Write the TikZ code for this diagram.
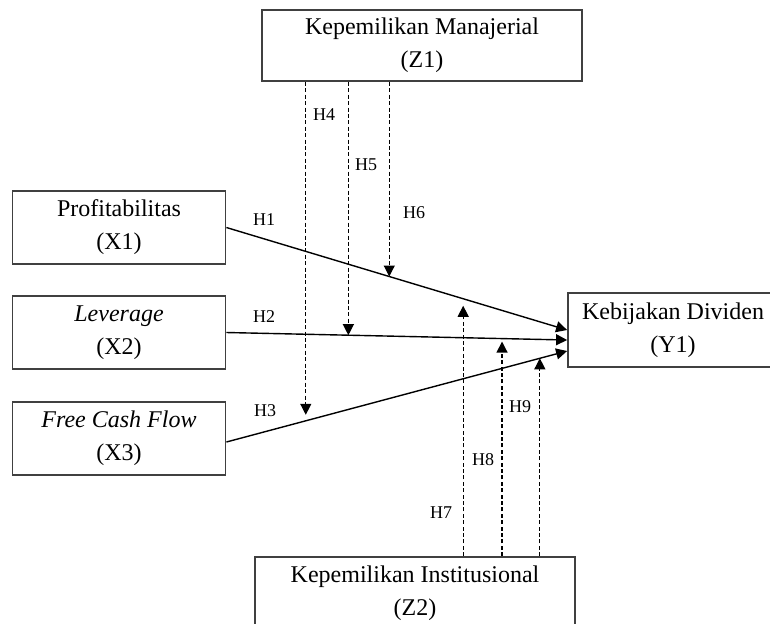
\documentclass[tikz,border=0pt]{standalone}
\usepackage{fontspec}
\setmainfont{Liberation Serif}
\usetikzlibrary{arrows.meta,positioning,calc}
\definecolor{boxline}{RGB}{64,64,64}

\begin{document}
\begin{tikzpicture}[
    x=0.5pt, y=-0.5pt,
    var/.style={rectangle, draw=boxline, line width=0.9pt, align=center, font=\fontsize{12}{16.5}\selectfont, inner sep=2pt},
    main/.style={-{Triangle[length=5.5pt,width=5.5pt]}, line width=0.7pt},
    moder/.style={-{Triangle[length=5.5pt,width=5.5pt]}, dash pattern=on 2pt off 1.2pt, line width=0.6pt},
    hlab/.style={font=\fontsize{9}{10}\selectfont, inner sep=1pt}
]
    \clip (0,0) rectangle (770,623);

    % Independent variables
    \foreach \i/\t/\yy in {1/Profitabilitas/227.5, 2/{\textit{Leverage}}/332.5, 3/{\textit{Free Cash Flow}}/438.5} {
        \node[var, minimum width=106.5pt, minimum height=36.5pt] (X\i) at (119, \yy) {\t\\(X\i)};
    }

    % Dependent and moderating variables
    \node[var, minimum width=105pt, minimum height=37pt] (Y1) at (673, 330) {Kebijakan Dividen\\(Y1)};
    \node[var, minimum width=160pt, minimum height=35.5pt] (Z1) at (422, 45.5) {Kepemilikan Manajerial\\(Z1)};
    \node[var, minimum width=160pt, minimum height=36pt] (Z2) at (415, 593) {Kepemilikan Institusional\\(Z2)};

    % Direct effects
    \draw[main] (X1.east) -- coordinate[pos=0.478] (m6) coordinate[pos=0.695] (m7) (Y1.west);
    \draw[main] (X2.east) -- coordinate[pos=0.358] (m5) coordinate[pos=0.809] (m8) ([yshift=-5pt]Y1.west);
    \draw[main] ([yshift=-1.75pt]X3.east) -- coordinate[pos=0.233] (m4) coordinate[pos=0.920] (m9) ([yshift=-10.5pt]Y1.west);

    % Moderating effects
    \foreach \k/\s in {4/3pt, 5/0pt, 6/0pt}
        \draw[moder, shorten >=\s] (m\k |- Z1.south) -- (m\k);
    \foreach \k/\s in {7/3.5pt, 8/1.5pt, 9/0pt}
        \draw[moder, shorten >=\s] (m\k |- Z2.north) -- (m\k);

    % Labels
    \foreach \k/\px/\py in {1/264/220, 2/264/317, 3/265/411, 4/324/115, 5/366/165, 6/414/213, 7/441/513, 8/483/460, 9/520/407}
        \node[hlab] (h\k) at (\px, \py) {H\k};
\end{tikzpicture}
\end{document}
